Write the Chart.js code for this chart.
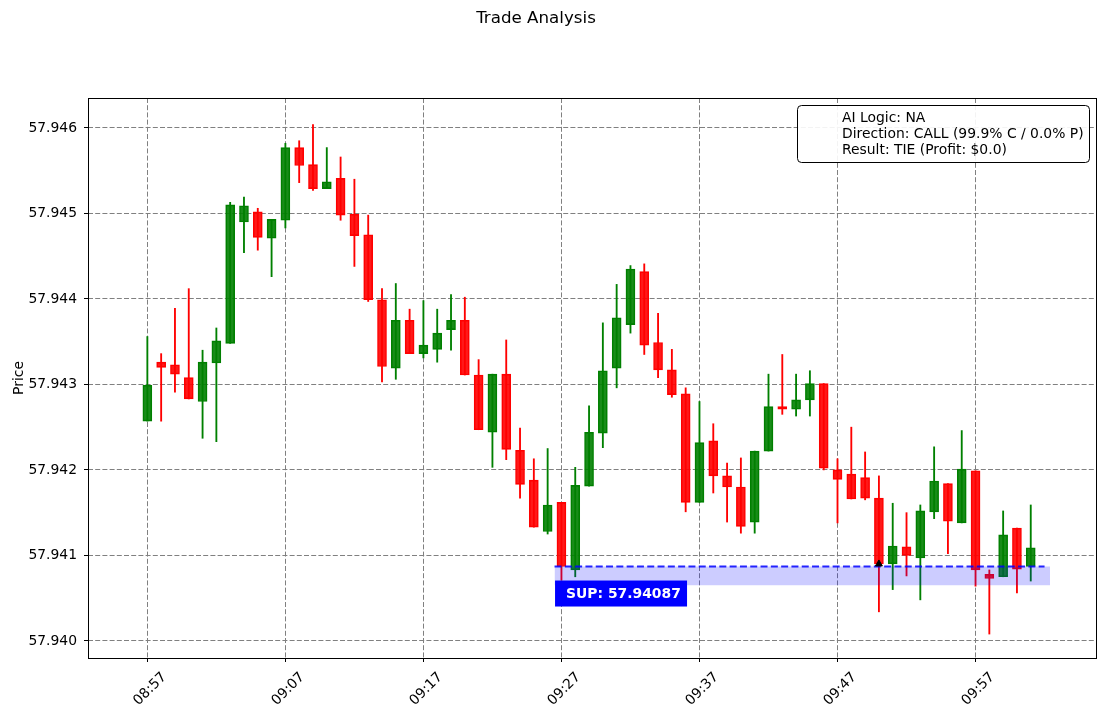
<!DOCTYPE html>
<html>
<head>
<meta charset="utf-8">
<script src="https://cdn.jsdelivr.net/npm/chart.js@4.4.0/dist/chart.umd.min.js"></script>
<style>
  html, body { margin: 0; padding: 0; background: #fff; }
  #wrap { width: 1105px; height: 716px; }
</style>
</head>
<body>
<div id="wrap"><canvas id="tradeChart" width="1105" height="716"></canvas></div>
<script>
// one candle per minute, 08:57 - 10:01
const times = [
    '08:57', '08:58', '08:59', '09:00', '09:01', '09:02', '09:03', '09:04', '09:05', '09:06',
    '09:07', '09:08', '09:09', '09:10', '09:11', '09:12', '09:13', '09:14', '09:15', '09:16',
    '09:17', '09:18', '09:19', '09:20', '09:21', '09:22', '09:23', '09:24', '09:25', '09:26',
    '09:27', '09:28', '09:29', '09:30', '09:31', '09:32', '09:33', '09:34', '09:35', '09:36',
    '09:37', '09:38', '09:39', '09:40', '09:41', '09:42', '09:43', '09:44', '09:45', '09:46',
    '09:47', '09:48', '09:49', '09:50', '09:51', '09:52', '09:53', '09:54', '09:55', '09:56',
    '09:57', '09:58', '09:59', '10:00', '10:01'
];

const opens = [
    57.94257, 57.94326, 57.94323, 57.94308, 57.94280, 57.94325, 57.94348, 57.94490, 57.94502, 57.94471,
    57.94492, 57.94577, 57.94557, 57.94529, 57.94541, 57.94499, 57.94475, 57.94399, 57.94319, 57.94375,
    57.94336, 57.94341, 57.94364, 57.94375, 57.94311, 57.94244, 57.94312, 57.94223, 57.94188, 57.94128,
    57.94162, 57.94083, 57.94181, 57.94243, 57.94319, 57.94370, 57.94432, 57.94349, 57.94317, 57.94289,
    57.94162, 57.94234, 57.94193, 57.94180, 57.94139, 57.94222, 57.94274, 57.94271, 57.94282, 57.94301,
    57.94200, 57.94195, 57.94191, 57.94167, 57.94090, 57.94110, 57.94097, 57.94151, 57.94184, 57.94138,
    57.94199, 57.94078, 57.94075, 57.94132, 57.94087
];
const highs = [
    57.94356, 57.94336, 57.94389, 57.94412, 57.94340, 57.94366, 57.94513, 57.94519, 57.94506, 57.94493,
    57.94582, 57.94585, 57.94604, 57.94577, 57.94566, 57.94540, 57.94498, 57.94412, 57.94418, 57.94388,
    57.94398, 57.94388, 57.94405, 57.94402, 57.94329, 57.94312, 57.94352, 57.94249, 57.94213, 57.94225,
    57.94162, 57.94203, 57.94275, 57.94372, 57.94417, 57.94439, 57.94441, 57.94383, 57.94341, 57.94296,
    57.94280, 57.94254, 57.94208, 57.94214, 57.94222, 57.94312, 57.94335, 57.94312, 57.94316, 57.94301,
    57.94213, 57.94250, 57.94221, 57.94193, 57.94161, 57.94150, 57.94159, 57.94227, 57.94184, 57.94246,
    57.94199, 57.94083, 57.94152, 57.94132, 57.94159
];
const lows = [
    57.94257, 57.94257, 57.94291, 57.94283, 57.94237, 57.94233, 57.94348, 57.94454, 57.94457, 57.94426,
    57.94483, 57.94536, 57.94527, 57.94529, 57.94492, 57.94438, 57.94397, 57.94303, 57.94306, 57.94336,
    57.94331, 57.94326, 57.94340, 57.94311, 57.94247, 57.94203, 57.94212, 57.94167, 57.94133, 57.94125,
    57.94071, 57.94075, 57.94181, 57.94226, 57.94296, 57.94360, 57.94335, 57.94308, 57.94285, 57.94151,
    57.94162, 57.94173, 57.94139, 57.94126, 57.94126, 57.94222, 57.94265, 57.94263, 57.94263, 57.94200,
    57.94138, 57.94166, 57.94165, 57.94034, 57.94060, 57.94076, 57.94048, 57.94143, 57.94102, 57.94138,
    57.94064, 57.94008, 57.94075, 57.94056, 57.94070
];
const closes = [
    57.94299, 57.94320, 57.94312, 57.94283, 57.94326, 57.94351, 57.94510, 57.94509, 57.94472, 57.94493,
    57.94577, 57.94556, 57.94529, 57.94537, 57.94498, 57.94474, 57.94399, 57.94321, 57.94375, 57.94336,
    57.94346, 57.94360, 57.94375, 57.94311, 57.94247, 57.94312, 57.94224, 57.94183, 57.94133, 57.94159,
    57.94087, 57.94182, 57.94244, 57.94316, 57.94378, 57.94435, 57.94346, 57.94317, 57.94288, 57.94162,
    57.94232, 57.94193, 57.94180, 57.94134, 57.94222, 57.94274, 57.94271, 57.94282, 57.94301, 57.94202,
    57.94189, 57.94166, 57.94167, 57.94090, 57.94111, 57.94100, 57.94152, 57.94187, 57.94140, 57.94201,
    57.94083, 57.94073, 57.94124, 57.94084, 57.94109
];

// support zone
const supLevel = 57.94087;
const supBandLow = 57.94065;
const supRange = [29.5, 65];
const bandRange = [29.5, 65.4];

// trade entry
const entryIdx = 53;
const entryPrice = 57.94090;

// axes
const xTickIdx = [0, 10, 20, 30, 40, 50, 60];
const yTicks = [57.940, 57.941, 57.942, 57.943, 57.944, 57.945, 57.946];

const legendLines = [
    'AI Logic: NA',
    'Direction: CALL (99.9% C / 0.0% P)',
    'Result: TIE (Profit: $0.0)'
];

const isUp = closes.map((c, i) => c >= opens[i]);
const wickColors = isUp.map(u => u ? '#008000' : '#ff0000');
const bodyFill = isUp.map(u => u ? 'rgba(0, 128, 0, 0.9)' : 'rgba(255, 0, 0, 0.9)');

Chart.defaults.font.family = '"DejaVu Sans", sans-serif';
Chart.defaults.font.size = 13.9;
Chart.defaults.color = '#000';

// title, frame, legend box and the SUP label
const decorPlugin = {
    id: 'decor',
    afterDatasetsDraw(chart) {
        const { ctx, scales: { x, y } } = chart;
        const bx = x.getPixelForValue(bandRange[0]) + 0.5;
        const by = y.getPixelForValue(supLevel) + 14;
        ctx.save();
        ctx.fillStyle = '#0000ff';
        ctx.fillRect(bx, by, 132, 26);
        ctx.fillStyle = '#ffffff';
        ctx.font = 'bold 13.9px "DejaVu Sans"';
        ctx.textBaseline = 'middle';
        ctx.fillText('SUP: ' + supLevel.toFixed(5), bx + 11, by + 13.5);
        ctx.restore();
    },
    afterDraw(chart) {
        const { ctx, chartArea: a } = chart;
        ctx.save();
        // axes frame
        ctx.strokeStyle = '#000';
        ctx.lineWidth = 1;
        ctx.strokeRect(a.left + 0.5, a.top + 0.5, a.right - a.left - 1, a.bottom - a.top);

        // title
        ctx.fillStyle = '#000';
        ctx.font = '16.7px "DejaVu Sans"';
        ctx.textAlign = 'center';
        ctx.textBaseline = 'middle';
        ctx.fillText('Trade Analysis', 536, 19);

        // legend box
        ctx.beginPath();
        ctx.roundRect(797.5, 105.5, 292, 57, 4);
        ctx.fillStyle = 'rgba(255, 255, 255, 0.9)';
        ctx.fill();
        ctx.strokeStyle = '#000';
        ctx.stroke();
        ctx.fillStyle = '#000';
        ctx.font = '13.9px "DejaVu Sans"';
        ctx.textAlign = 'left';
        legendLines.forEach((line, i) => {
            ctx.fillText(line, 842, 118.5 + i * 16);
        });
        ctx.restore();
    }
};

const ctx = document.getElementById('tradeChart').getContext('2d');
const tradeChart = new Chart(ctx, {
    type: 'bar',
    data: {
        datasets: [
            {
                // entry marker
                type: 'scatter',
                data: [{ x: entryIdx, y: entryPrice }],
                pointStyle: 'triangle',
                pointRadius: 4,
                backgroundColor: '#000',
                borderColor: '#000',
                order: 0
            },
            {
                // support line
                type: 'line',
                data: supRange.map(v => ({ x: v, y: supLevel })),
                borderColor: 'rgba(0, 0, 255, 0.85)',
                borderWidth: 1.8,
                borderDash: [7, 3.3],
                pointRadius: 0,
                fill: false,
                order: 1
            },
            {
                // band top, filled down to band bottom
                type: 'line',
                data: bandRange.map(v => ({ x: v, y: supLevel })),
                borderWidth: 0,
                pointRadius: 0,
                backgroundColor: 'rgba(0, 0, 255, 0.2)',
                fill: '+1',
                order: 2
            },
            {
                type: 'line',
                data: bandRange.map(v => ({ x: v, y: supBandLow })),
                borderWidth: 0,
                pointRadius: 0,
                fill: false,
                order: 3
            },
            {
                // candle bodies
                data: opens.map((o, i) => ({ x: i, y: [o, closes[i]] })),
                backgroundColor: bodyFill,
                borderColor: wickColors,
                borderWidth: 1,
                borderSkipped: false,
                barThickness: 9,
                grouped: false,
                order: 4
            },
            {
                // wicks
                data: lows.map((l, i) => ({ x: i, y: [l, highs[i]] })),
                backgroundColor: wickColors,
                borderWidth: 0,
                barThickness: 1.2,
                grouped: false,
                order: 5
            }
        ]
    },
    options: {
        responsive: false,
        animation: false,
        events: [],
        layout: { padding: { top: 98, right: 8, left: 0, bottom: 0 } },
        plugins: {
            legend: { display: false },
            tooltip: { enabled: false },
            title: { display: false }
        },
        scales: {
            x: {
                type: 'linear',
                min: -4.3,
                max: 68.8,
                offset: false,
                grid: {
                    offset: false,
                    color: '#808080',
                    lineWidth: 1,
                    tickColor: '#000',
                    tickLength: 4,
                    tickBorderDash: []
                },
                border: { display: false, dash: [5, 2.2] },
                afterBuildTicks: s => { s.ticks = xTickIdx.map(v => ({ value: v })); },
                afterFit: s => { s.height = 58; },
                ticks: {
                    minRotation: 45,
                    maxRotation: 45,
                    padding: 7,
                    labelOffset: 17,
                    callback: v => times[v]
                }
            },
            y: {
                type: 'linear',
                min: 57.9398,
                max: 57.94635,
                grid: {
                    color: '#808080',
                    lineWidth: 1,
                    tickColor: '#000',
                    tickLength: 4,
                    tickBorderDash: []
                },
                border: { display: false, dash: [5, 2.2] },
                afterBuildTicks: s => { s.ticks = yTicks.map(v => ({ value: v })); },
                afterFit: s => { s.width = 88; },
                ticks: {
                    padding: 7,
                    callback: v => v.toFixed(3)
                },
                title: {
                    display: true,
                    text: 'Price',
                    padding: { top: 11, bottom: 0 }
                }
            }
        }
    },
    plugins: [decorPlugin]
});
</script>
</body>
</html>
